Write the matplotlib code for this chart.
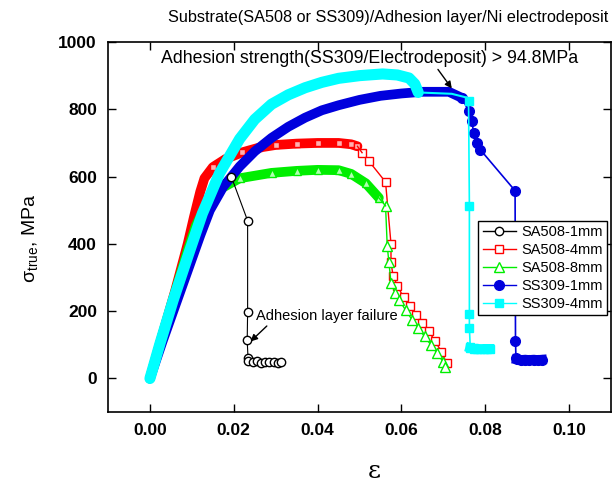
import matplotlib
matplotlib.use("Agg")
import matplotlib.pyplot as plt
from matplotlib.lines import Line2D

plt.rcParams['font.family'] = ['Liberation Sans', 'DejaVu Sans']
plt.rcParams['mathtext.fontset'] = 'custom'
plt.rcParams['mathtext.rm'] = 'Liberation Sans'
plt.rcParams['mathtext.it'] = 'Liberation Sans:italic'
plt.rcParams['mathtext.bf'] = 'Liberation Sans:bold'

# ---------------- data (strain, true stress MPa) ----------------
labels = ["SA508-1mm", "SA508-4mm", "SA508-8mm", "SS309-1mm", "SS309-4mm"]

# SA508-1mm
a1_rise_x = [0, 0.003, 0.006, 0.009, 0.012, 0.015, 0.0175, 0.0194]
a1_rise_y = [0, 140, 275, 395, 490, 555, 588, 600]
a1_drop_x = [0.0194, 0.0233, 0.0233, 0.0232, 0.0234]
a1_drop_y = [600, 469, 197, 113, 60]
a1_tail_x = [0.0234, 0.0245, 0.0255, 0.0265, 0.0275, 0.0285, 0.0295, 0.0305, 0.0312]
a1_tail_y = [52, 48, 51, 47, 50, 48, 49, 47, 49]

# SA508-4mm
a4_band_x = [0, 0.003, 0.006, 0.009, 0.0105, 0.012, 0.013, 0.015, 0.018, 0.022,
             0.026, 0.030, 0.035, 0.040, 0.045, 0.048, 0.0495]
a4_band_y = [0, 130, 260, 400, 480, 555, 595, 628, 652, 672,
             686, 694, 698, 700, 700, 696, 690]
a4_drop_x = [0.0506, 0.0523, 0.0562, 0.0575, 0.0575, 0.0580, 0.0590, 0.0605,
             0.0620, 0.0635, 0.0650, 0.0665, 0.0680, 0.0695, 0.0708]
a4_drop_y = [671, 645, 584, 400, 345, 305, 276, 241, 215, 190, 165, 140, 112, 80, 45]

# SA508-8mm
a8_band_x = [0, 0.003, 0.006, 0.009, 0.011, 0.013, 0.015, 0.0166, 0.0214, 0.029,
             0.035, 0.040, 0.045, 0.048, 0.0515, 0.0546]
a8_band_y = [0, 130, 255, 380, 455, 505, 538, 562, 595, 611,
             617, 620, 619, 608, 580, 537]
a8_drop_x = [0.0562, 0.0566, 0.0570, 0.0575, 0.0585, 0.0595, 0.0610, 0.0625,
             0.0640, 0.0655, 0.0670, 0.0685, 0.0700, 0.0705]
a8_drop_y = [513, 395, 345, 285, 255, 232, 203, 175, 150, 125, 100, 75, 48, 33]

# SS309-1mm
b1_band_x = [0, 0.003, 0.006, 0.009, 0.012, 0.0143, 0.0175, 0.0214, 0.025, 0.029,
             0.033, 0.037, 0.041, 0.045, 0.050, 0.055, 0.060, 0.065, 0.0713, 0.0744]
b1_band_y = [0, 110, 215, 320, 425, 500, 570, 630, 675, 715,
             748, 775, 797, 812, 828, 840, 847, 852, 852, 834]
b1_drop_x = [0.0760, 0.0768, 0.0772, 0.0779, 0.0788, 0.0871, 0.0872, 0.0873]
b1_drop_y = [795, 765, 730, 700, 680, 558, 112, 62]
b1_tail_x = [0.0875, 0.0885, 0.0895, 0.0905, 0.0915, 0.0925, 0.0935]
b1_tail_y = [57, 55, 56, 55, 56, 55, 56]

# SS309-4mm
b4_band_x = [0, 0.0024, 0.0055, 0.0095, 0.0125, 0.0166, 0.0214, 0.025, 0.029, 0.033,
             0.037, 0.041, 0.045, 0.050, 0.0555, 0.059, 0.0618, 0.0632, 0.0640]
b4_band_y = [0, 104, 231, 380, 490, 610, 712, 770, 815, 843,
             864, 880, 892, 900, 905, 902, 893, 875, 850]
b4_flat_x = [0.0640, 0.068, 0.072, 0.0755]
b4_flat_y = [850, 848, 846, 835]
b4_drop_x = [0.0760, 0.0762, 0.0762, 0.0762, 0.0764]
b4_drop_y = [825, 513, 193, 151, 95]
b4_tail_x = [0.0764, 0.0772, 0.0780, 0.0788, 0.0796, 0.0804, 0.0810]
b4_tail_y = [91, 88, 89, 87, 88, 88, 88]

xticks = [0.00, 0.02, 0.04, 0.06, 0.08, 0.10]
yticks = [0, 200, 400, 600, 800, 1000]

# ---------------- figure ----------------
fig = plt.figure(figsize=(6.12, 4.86), dpi=100)
ax = fig.add_axes([0.1765, 0.152, 0.822, 0.7616])

blk, red, grn, blu, cyn = 'black', '#ff0000', '#00ee00', '#0000dd', '#00ffff'

# SA508-1mm rise (hidden under others)
ax.plot(a1_rise_x, a1_rise_y, color=blk, lw=1.5, zorder=1)
# SA508-4mm
ax.plot(a4_band_x, a4_band_y, color=red, lw=7, zorder=2, solid_capstyle='round')
ax.plot(a4_band_x[7:], a4_band_y[7:], color=red, lw=0, marker='s', ms=5, mfc='#ffb0b0', mec=red, zorder=2)
ax.plot(a4_drop_x, a4_drop_y, color=red, lw=1, marker='s', ms=6, mfc='white', mec=red, zorder=2)
ax.plot([a4_band_x[-1], a4_drop_x[0]], [a4_band_y[-1], a4_drop_y[0]], color=red, lw=1, zorder=2)
# SA508-8mm
ax.plot(a8_band_x, a8_band_y, color=grn, lw=7, zorder=3, solid_capstyle='round')
ax.plot(a8_band_x[8:], a8_band_y[8:], color=grn, lw=0, marker='^', ms=6, mfc='#b0ffb0', mec=grn, zorder=3)
ax.plot(a8_drop_x, a8_drop_y, color=grn, lw=1, marker='^', ms=7, mfc='white', mec=grn, zorder=3)
ax.plot([a8_band_x[-1], a8_drop_x[0]], [a8_band_y[-1], a8_drop_y[0]], color=grn, lw=1, zorder=3)
# SS309-1mm
ax.plot(b1_band_x, b1_band_y, color=blu, lw=7, zorder=4, solid_capstyle='round')
ax.plot([b1_band_x[-1]] + b1_drop_x, [b1_band_y[-1]] + b1_drop_y, color=blu, lw=1.2,
        marker='o', ms=7, zorder=4)
ax.plot(b1_tail_x, b1_tail_y, color=blu, lw=7, marker='o', ms=7, zorder=4)
# SS309-4mm
ax.plot(b4_band_x, b4_band_y, color=cyn, lw=8, zorder=5, solid_capstyle='round')
ax.plot(b4_flat_x, b4_flat_y, color=cyn, lw=1.5, zorder=5)
ax.plot([b4_flat_x[-1]] + b4_drop_x, [b4_flat_y[-1]] + b4_drop_y, color=cyn, lw=1.2,
        marker='s', ms=6, zorder=5, markevery=list(range(1, len(b4_drop_x) + 1)))
ax.plot(b4_tail_x, b4_tail_y, color=cyn, lw=7, marker='s', ms=6, zorder=5)
# SA508-1mm failure part on top
ax.plot(a1_drop_x, a1_drop_y, color=blk, lw=0.8, marker='o', ms=6, mfc='white', mec=blk, zorder=6)
ax.plot(a1_tail_x, a1_tail_y, color=blk, lw=0.8, marker='o', ms=6, mfc='white', mec=blk, zorder=6)

# ---------------- axes styling ----------------
ax.set_xlim(-0.01, 0.11)
ax.set_ylim(-100, 1000)
ax.set_xticks(xticks)
ax.set_yticks(yticks)
ax.set_xticklabels([f"{t:.2f}" for t in xticks], fontweight='bold', fontsize=12.5)
ax.set_yticklabels([str(t) for t in yticks], fontweight='bold', fontsize=12.5)
ax.tick_params(direction='in', length=6, width=1, top=True, right=True, pad=8)
for s in ax.spines.values():
    s.set_linewidth(1.2)

ax.set_xlabel("ε", fontsize=18, family=['DejaVu Serif'])
ax.xaxis.set_label_coords(0.53, -0.128)
ax.set_ylabel(r"$\mathrm{σ_{true}}$, MPa", fontsize=14)
ax.yaxis.set_label_coords(-0.135, 0.47)

fig.text(0.635, 0.965, "Substrate(SA508 or SS309)/Adhesion layer/Ni electrodeposit",
         ha='center', va='center', fontsize=11.7)

ax.annotate("Adhesion strength(SS309/Electrodeposit) > 94.8MPa",
            xy=(0.0720, 862), xytext=(0.0523, 952), ha='center', va='center',
            fontsize=12.8, zorder=10,
            arrowprops=dict(arrowstyle='-|>', color='black', lw=1, shrinkA=0, shrinkB=0,
                            mutation_scale=10, relpos=(0.66, 0.0)))
ax.annotate("Adhesion layer failure", xy=(0.0240, 110), xytext=(0.0252, 185),
            ha='left', va='center', fontsize=10.5, zorder=10,
            arrowprops=dict(arrowstyle='-|>', color='black', lw=1, shrinkA=0, shrinkB=0,
                            mutation_scale=10, relpos=(0.1, 0.0)))

handles = [
    Line2D([], [], color=blk, lw=1, marker='o', ms=6, mfc='white', mec=blk),
    Line2D([], [], color=red, lw=1, marker='s', ms=6, mfc='white', mec=red),
    Line2D([], [], color=grn, lw=1, marker='^', ms=7, mfc='white', mec=grn),
    Line2D([], [], color=blu, lw=1, marker='o', ms=7),
    Line2D([], [], color=cyn, lw=1, marker='s', ms=6),
]
leg = ax.legend(handles, labels, loc='upper right', bbox_to_anchor=(0.992, 0.517),
                fontsize=10.5, frameon=True, fancybox=False, edgecolor='black',
                framealpha=1, labelspacing=0.27, handlelength=2.3, handletextpad=0.35,
                borderpad=0.3, borderaxespad=0)
leg.get_frame().set_linewidth(1)
leg.set_zorder(20)

fig.savefig("out.png", dpi=100)
